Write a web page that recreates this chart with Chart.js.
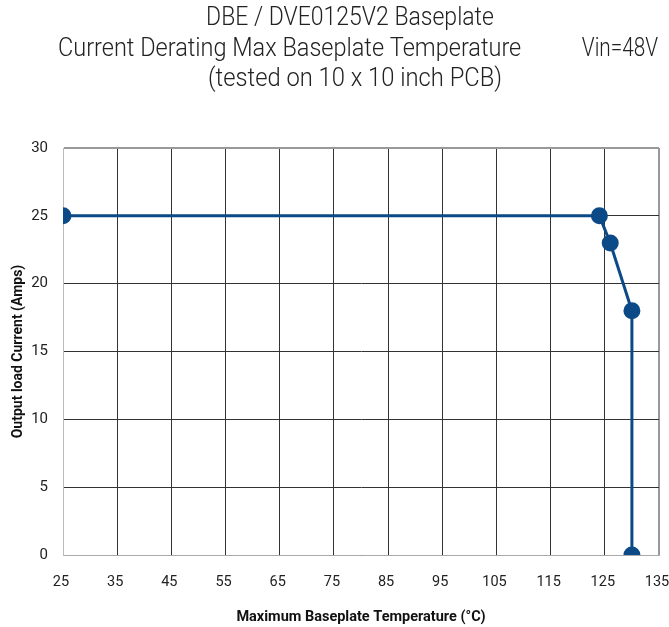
<!DOCTYPE html>
<html>
<head>
<meta charset="utf-8">
<script src="https://cdn.jsdelivr.net/npm/chart.js@4.4.1/dist/chart.umd.min.js"></script>
<style>
  body { margin: 0; background: #fff; }
  #wrap { width: 669px; height: 627px; }
</style>
</head>
<body>
<div id="wrap"><canvas id="chart" width="669" height="627"></canvas></div>
<script>
// values
var temps = [25, 124, 126, 130, 130];
var amps = [25, 25, 23, 18, 0];
var xTicks = [25, 35, 45, 55, 65, 75, 85, 95, 105, 115, 125, 135];
var yTicks = [0, 5, 10, 15, 20, 25, 30];
var titleLines = ['DBE / DVE0125V2 Baseplate', 'Current Derating Max Baseplate Temperature', '(tested on 10 x 10 inch PCB)'];
var vinLabel = 'Vin=48V';

var fontFam = 'Roboto, "DejaVu Sans Condensed", sans-serif';
var lineColor = '#0b4a87';

var points = temps.map(function (t, i) { return { x: t, y: amps[i] }; });

// squeeze a line of text horizontally so it looks like the condensed face
function narrowText(ctx, txt, x, y, align, sx) {
    ctx.save();
    ctx.translate(x, y);
    ctx.scale(sx, 1);
    ctx.textAlign = align;
    ctx.fillText(txt, 0, 0);
    ctx.restore();
}

// draws the three title lines in the top padding
var titlePlugin = {
    id: 'titleText',
    afterDraw: function (chart) {
        var ctx = chart.ctx;
        ctx.save();
        ctx.fillStyle = '#222';
        ctx.font = '300 25px ' + fontFam;
        ctx.textBaseline = 'middle';
        narrowText(ctx, titleLines[0], 350, 19, 'center', 0.92);
        narrowText(ctx, titleLines[1], 58, 50, 'left', 0.94);
        narrowText(ctx, vinLabel, 658, 50, 'right', 0.83);
        narrowText(ctx, titleLines[2], 355, 80, 'center', 0.95);
        ctx.restore();
    }
};

var ctx = document.getElementById('chart').getContext('2d');
var chart = new Chart(ctx, {
    type: 'line',
    data: {
        datasets: [{
            data: points,
            borderColor: lineColor,
            backgroundColor: lineColor,
            borderWidth: 3,
            pointRadius: 7,
            pointHoverRadius: 7,
            pointBackgroundColor: lineColor,
            pointBorderColor: lineColor,
            tension: 0
        }]
    },
    options: {
        responsive: false,
        animation: false,
        layout: { padding: { top: 148, right: 10, left: 0, bottom: 0 } },
        plugins: {
            legend: { display: false },
            tooltip: { enabled: false }
        },
        scales: {
            x: {
                type: 'linear',
                min: 25,
                max: 135,
                afterBuildTicks: function (scale) {
                    scale.ticks = xTicks.map(function (v) { return { value: v }; });
                },
                afterFit: function (scale) {
                    scale.height = 72;
                    scale.paddingLeft = 0;
                    scale.paddingRight = 0;
                },
                grid: {
                    color: function (c) { return c.tick && c.tick.value === 135 ? '#999' : '#333'; },
                    lineWidth: function (c) { return c.tick && c.tick.value === 135 ? 2 : 1; },
                    drawTicks: false
                },
                border: { color: '#aaa', width: 1 },
                ticks: { color: '#222', font: { family: fontFam, size: 14.5 }, padding: 19, maxRotation: 0, labelOffset: -2 },
                title: {
                    display: true,
                    text: 'Maximum Baseplate Temperature (°C)',
                    color: '#111',
                    font: { family: fontFam, size: 14.5, weight: 'bold' },
                    padding: { top: 0, bottom: 1 }
                }
            },
            y: {
                min: 0,
                max: 30,
                afterBuildTicks: function (scale) {
                    scale.ticks = yTicks.map(function (v) { return { value: v }; });
                },
                afterFit: function (scale) {
                    scale.width = 63;
                    scale.paddingTop = 0;
                    scale.paddingBottom = 0;
                },
                grid: {
                    color: function (c) { return c.tick && c.tick.value === 30 ? '#999' : '#333'; },
                    lineWidth: function (c) { return c.tick && c.tick.value === 30 ? 2 : 1; },
                    drawTicks: false
                },
                border: { color: '#bbb', width: 1 },
                ticks: { color: '#222', font: { family: fontFam, size: 15 }, padding: 15 },
                title: {
                    display: true,
                    text: 'Output load Current (Amps)',
                    color: '#111',
                    font: { family: fontFam, size: 14, weight: 'bold' },
                    padding: { top: 10, bottom: 0 }
                }
            }
        }
    },
    plugins: [titlePlugin]
});
</script>
</body>
</html>
